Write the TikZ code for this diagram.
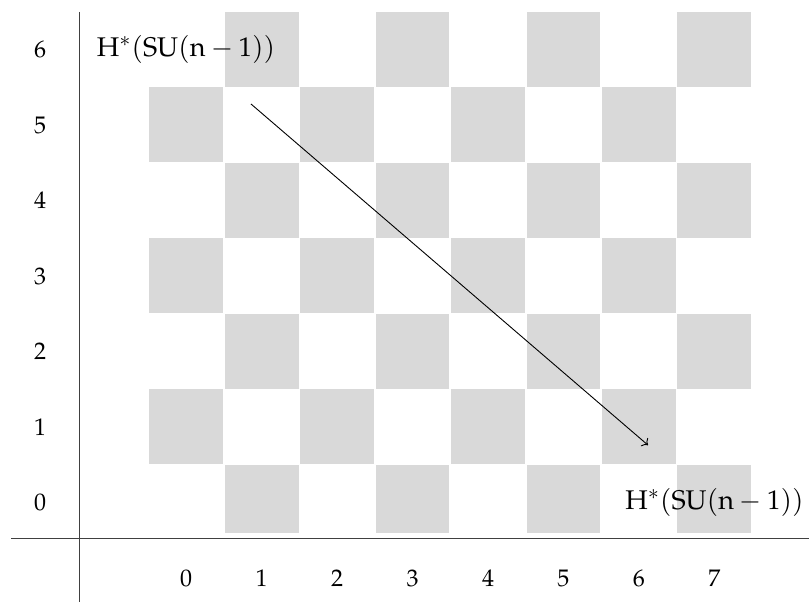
\documentclass[tikz,border=0pt]{standalone}
\usepackage[T1]{fontenc}
\usepackage{mathpazo}
\usepackage{tikz}
\usetikzlibrary{arrows.meta, positioning}

\newcommand{\sugroup}{$\mathrm{H}^*(\mathrm{SU}(\mathrm{n}-1))$}

\begin{document}
\begin{tikzpicture}[
    x=1.327cm, y=1.327cm,
    cell/.style = {fill=black!15},
    axis/.style = {draw=black!75, line width=0.5pt},
    tick/.style = {font=\fontsize{12}{14}\selectfont, inner sep=1pt},
    group/.style = {font=\fontsize{13.5}{15}\selectfont, inner sep=1pt},
    arrow/.style = {draw=black, ->, line width=0.45pt}
]
\useasboundingbox (-2.464,-1.318) rectangle (8.252,6.657);

% Checkerboard
\begin{scope}
\clip (-0.6,-0.40) rectangle (7.6,6.6);
\foreach \i in {0,...,7}
  \foreach \j in {0,...,6} {
    \pgfmathtruncatemacro\oddcell{mod(\i+\j,2)}
    \ifnum\oddcell=1
      \fill [cell] (\i-0.49,\j-0.49) rectangle (\i+0.49,\j+0.5);
    \fi
  }
\end{scope}

% Axes
\coordinate (vtop) at (-1.417,6.498);
\coordinate (vbot) at (-1.417,-1.318);
\coordinate (hleft) at (-2.318,-0.482);
\coordinate (hright) at (8.252,-0.482);
\draw [axis] (vtop) -- (vbot);
\draw [axis] (hleft) -- (hright);

% Degrees
\foreach \i in {0,...,7}
  \node (p\i) [tick] at (\i,-1) {\i};
\foreach \j in {0,...,6}
  \node (q\j) [tick] at (-1.934,\j) {\j};

% Groups
\node (top) [group] at (0,6) {\sugroup};
\node (bot) [group] at (7,0) {\sugroup};

% Differential
\coordinate (src) at (0.86,5.28);
\coordinate (tgt) at (6.12,0.76);
\draw [arrow] (src) -- (tgt);

\end{tikzpicture}
\end{document}
